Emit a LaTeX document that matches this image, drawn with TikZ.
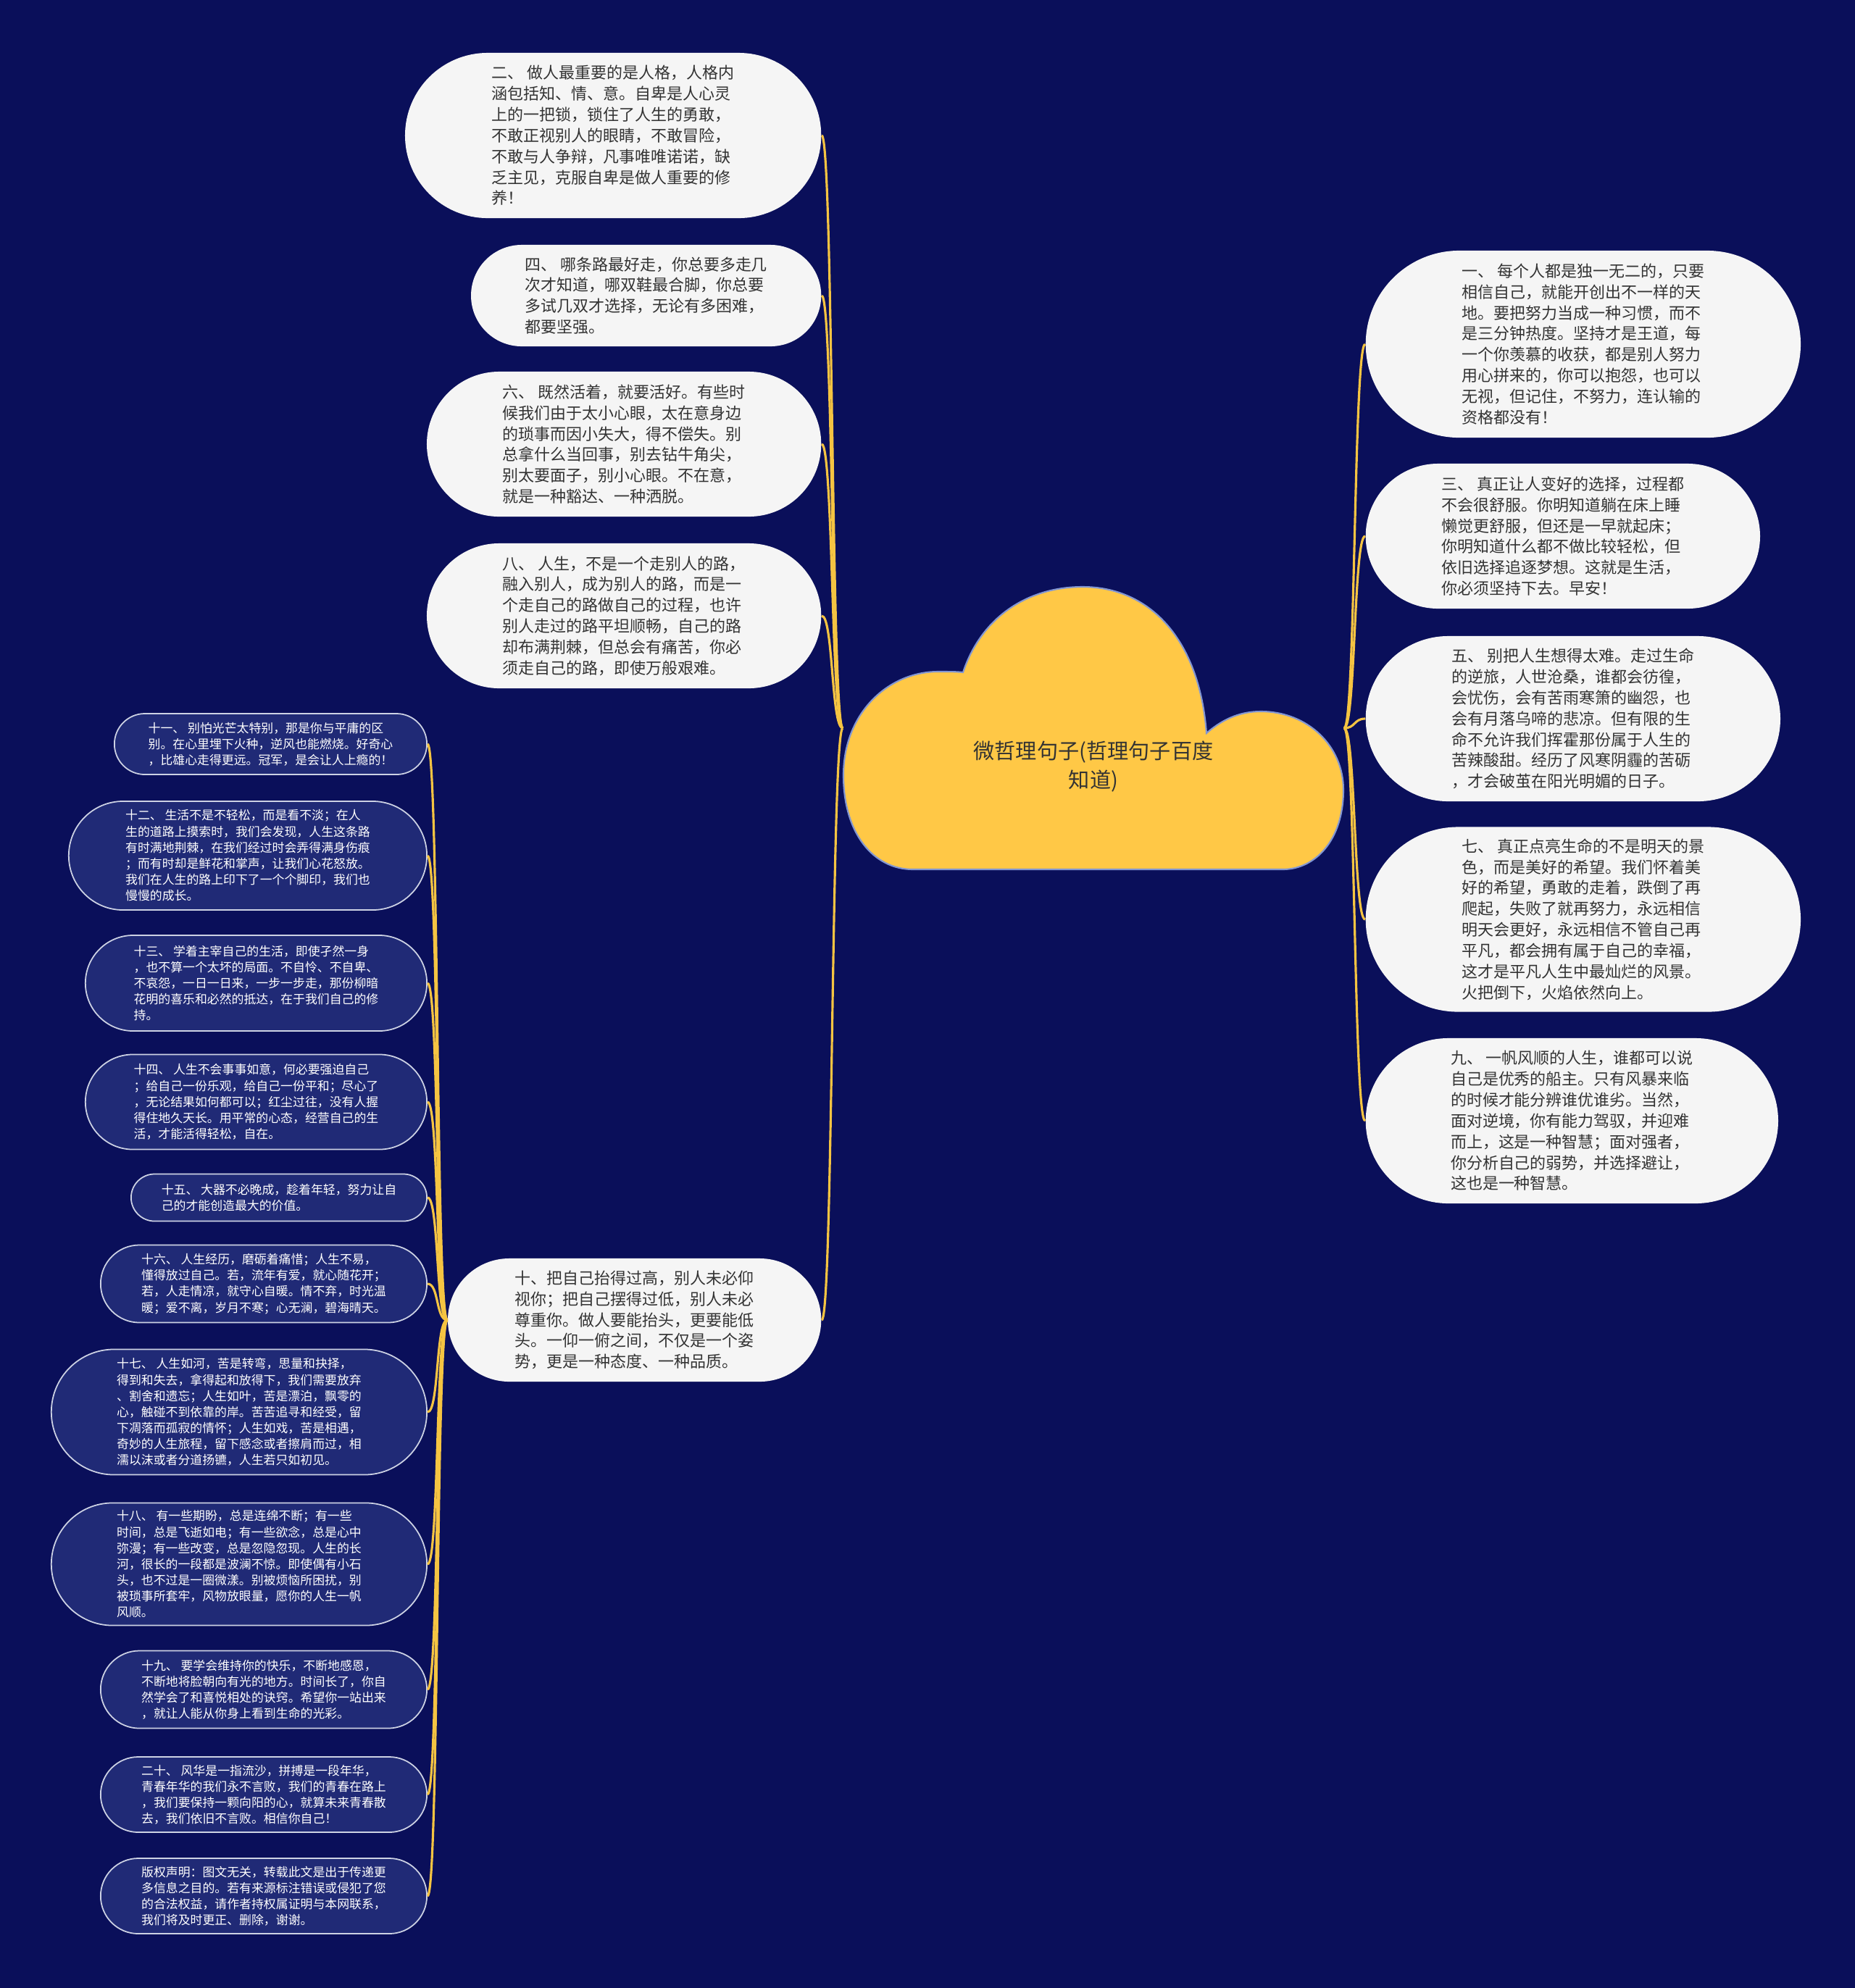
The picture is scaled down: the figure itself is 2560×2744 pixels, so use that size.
\documentclass[tikz,border=0pt]{standalone}
\usepackage{fontspec}
\setmainfont{Noto Sans CJK SC}
\usepackage{tikz}
\usetikzlibrary{shapes,arrows,positioning}

\definecolor{bgnavy}{RGB}{10,15,90}
\definecolor{boxwhite}{RGB}{245,245,245}
\definecolor{boxblue}{RGB}{32,42,118}
\definecolor{boxedge}{RGB}{205,210,228}
\definecolor{textgray}{RGB}{51,51,51}
\definecolor{linkyellow}{RGB}{245,196,66}
\definecolor{cloudyellow}{RGB}{255,200,70}
\definecolor{cloudedge}{RGB}{130,150,210}

\tikzset{
	whitebox/.style={rounded rectangle, fill=boxwhite, text=textgray, inner xsep=0pt, inner ysep=2pt, align=left, font=\fontsize{6.25pt}{8.2pt}\selectfont},
	bluebox/.style={rounded rectangle, fill=boxblue, draw=boxedge, line width=0.5pt, text=white, inner xsep=0pt, inner ysep=1pt, align=left, font=\fontsize{4.8pt}{6.3pt}\selectfont},
	rootbox/.style={rectangle, inner sep=0pt, minimum width=6.90cm, minimum height=3.90cm},
	roottext/.style={text=textgray, align=center, font=\fontsize{8.3pt}{11.3pt}\selectfont},
	link/.style={draw=linkyellow, line width=0.9pt},
}

\begin{document}
\begin{tikzpicture}[x=0.01cm, y=-0.01cm]
		\useasboundingbox[fill=bgnavy] (0,0) rectangle (2560,2744);

		\filldraw[fill=cloudyellow, draw=cloudedge, line width=0.6pt] (1329,928) .. controls (1355,850) and (1420,810) .. (1494,810) .. controls (1585,810) and (1655,880) .. (1665,1012) .. controls (1690,990) and (1715,982) .. (1740,982) .. controls (1805,982) and (1854,1030) .. (1854,1090) .. controls (1854,1160) and (1815,1200) .. (1770,1200) -- (1260,1200) .. controls (1205,1200) and (1164,1150) .. (1164,1070) .. controls (1164,985) and (1225,927) .. (1295,927) .. controls (1310,927) and (1320,927) .. (1329,928) -- cycle;
		\node[rootbox] (root) at (1509,1005) {};
		\node[roottext] (title) at (1509,1058) {微哲理句子(哲理句子百度\\知道)};

		\node[whitebox, anchor=east, minimum width=5.74cm, minimum height=2.28cm] (n2) at (1134,187) {二、 做人最重要的是人格，人格内\\涵包括知、情、意。自卑是人心灵\\上的一把锁，锁住了人生的勇敢，\\不敢正视别人的眼睛，不敢冒险，\\不敢与人争辩，凡事唯唯诺诺，缺\\乏主见，克服自卑是做人重要的修\\养！};
		\node[whitebox, anchor=east, minimum width=4.83cm, minimum height=1.40cm] (n4) at (1134,408) {四、 哪条路最好走，你总要多走几\\次才知道，哪双鞋最合脚，你总要\\多试几双才选择，无论有多困难，\\都要坚强。};
		\node[whitebox, anchor=east, minimum width=5.44cm, minimum height=2.00cm] (n6) at (1134,613) {六、 既然活着，就要活好。有些时\\候我们由于太小心眼，太在意身边\\的琐事而因小失大，得不偿失。别\\总拿什么当回事，别去钻牛角尖，\\别太要面子，别小心眼。不在意，\\就是一种豁达、一种洒脱。};
		\node[whitebox, anchor=east, minimum width=5.44cm, minimum height=2.00cm] (n8) at (1134,850) {八、 人生，不是一个走别人的路，\\融入别人，成为别人的路，而是一\\个走自己的路做自己的过程，也许\\别人走过的路平坦顺畅，自己的路\\却布满荆棘，但总会有痛苦，你必\\须走自己的路，即使万般艰难。};
		\node[whitebox, anchor=east, minimum width=5.15cm, minimum height=1.70cm] (n10) at (1134,1822) {十、把自己抬得过高，别人未必仰\\视你；把自己摆得过低，别人未必\\尊重你。做人要能抬头，更要能低\\头。一仰一俯之间，不仅是一个姿\\势，更是一种态度、一种品质。};

		\node[whitebox, anchor=west, minimum width=6.00cm, minimum height=2.58cm] (n1) at (1884,475) {一、 每个人都是独一无二的，只要\\相信自己，就能开创出不一样的天\\地。要把努力当成一种习惯，而不\\是三分钟热度。坚持才是王道，每\\一个你羡慕的收获，都是别人努力\\用心拼来的，你可以抱怨，也可以\\无视，但记住，不努力，连认输的\\资格都没有！};
		\node[whitebox, anchor=west, minimum width=5.44cm, minimum height=2.00cm] (n3) at (1884,740) {三、 真正让人变好的选择，过程都\\不会很舒服。你明知道躺在床上睡\\懒觉更舒服，但还是一早就起床；\\你明知道什么都不做比较轻松，但\\依旧选择追逐梦想。这就是生活，\\你必须坚持下去。早安！};
		\node[whitebox, anchor=west, minimum width=5.72cm, minimum height=2.28cm] (n5) at (1884,992) {五、 别把人生想得太难。走过生命\\的逆旅，人世沧桑，谁都会彷徨，\\会忧伤，会有苦雨寒箫的幽怨，也\\会有月落乌啼的悲凉。但有限的生\\命不允许我们挥霍那份属于人生的\\苦辣酸甜。经历了风寒阴霾的苦砺\\，才会破茧在阳光明媚的日子。};
		\node[whitebox, anchor=west, minimum width=6.00cm, minimum height=2.55cm] (n7) at (1884,1269) {七、 真正点亮生命的不是明天的景\\色，而是美好的希望。我们怀着美\\好的希望，勇敢的走着，跌倒了再\\爬起，失败了就再努力，永远相信\\明天会更好，永远相信不管自己再\\平凡，都会拥有属于自己的幸福，\\这才是平凡人生中最灿烂的风景。\\火把倒下，火焰依然向上。};
		\node[whitebox, anchor=west, minimum width=5.69cm, minimum height=2.28cm] (n9) at (1884,1547) {九、 一帆风顺的人生，谁都可以说\\自己是优秀的船主。只有风暴来临\\的时候才能分辨谁优谁劣。当然，\\面对逆境，你有能力驾驭，并迎难\\而上，这是一种智慧；面对强者，\\你分析自己的弱势，并选择避让，\\这也是一种智慧。};

		\node[bluebox, anchor=east, minimum width=4.31cm, minimum height=0.84cm] (n11) at (590,1027) {十一、 别怕光芒太特别，那是你与平庸的区\\别。在心里埋下火种，逆风也能燃烧。好奇心\\，比雄心走得更远。冠军，是会让人上瘾的！};
		\node[bluebox, anchor=east, minimum width=4.94cm, minimum height=1.50cm] (n12) at (590,1181) {十二、 生活不是不轻松，而是看不淡；在人\\生的道路上摸索时，我们会发现，人生这条路\\有时满地荆棘，在我们经过时会弄得满身伤痕\\；而有时却是鲜花和掌声，让我们心花怒放。\\我们在人生的路上印下了一个个脚印，我们也\\慢慢的成长。};
		\node[bluebox, anchor=east, minimum width=4.71cm, minimum height=1.32cm] (n13) at (590,1357) {十三、 学着主宰自己的生活，即使孑然一身\\，也不算一个太坏的局面。不自怜、不自卑、\\不哀怨，一日一日来，一步一步走，那份柳暗\\花明的喜乐和必然的抵达，在于我们自己的修\\持。};
		\node[bluebox, anchor=east, minimum width=4.71cm, minimum height=1.31cm] (n14) at (590,1521) {十四、 人生不会事事如意，何必要强迫自己\\；给自己一份乐观，给自己一份平和；尽心了\\，无论结果如何都可以；红尘过往，没有人握\\得住地久天长。用平常的心态，经营自己的生\\活，才能活得轻松，自在。};
		\node[bluebox, anchor=east, minimum width=4.08cm, minimum height=0.65cm] (n15) at (590,1653) {十五、 大器不必晚成，趁着年轻，努力让自\\己的才能创造最大的价值。};
		\node[bluebox, anchor=east, minimum width=4.50cm, minimum height=1.07cm] (n16) at (590,1772) {十六、 人生经历，磨砺着痛惜；人生不易，\\懂得放过自己。若，流年有爱，就心随花开；\\若，人走情凉，就守心自暖。情不弃，时光温\\暖；爱不离，岁月不寒；心无澜，碧海晴天。};
		\node[bluebox, anchor=east, minimum width=5.18cm, minimum height=1.73cm] (n17) at (590,1949) {十七、 人生如河，苦是转弯，思量和抉择，\\得到和失去，拿得起和放得下，我们需要放弃\\、割舍和遗忘；人生如叶，苦是漂泊，飘零的\\心，触碰不到依靠的岸。苦苦追寻和经受，留\\下凋落而孤寂的情怀；人生如戏，苦是相遇，\\奇妙的人生旅程，留下感念或者擦肩而过，相\\濡以沫或者分道扬镳，人生若只如初见。};
		\node[bluebox, anchor=east, minimum width=5.18cm, minimum height=1.69cm] (n18) at (590,2159) {十八、 有一些期盼，总是连绵不断；有一些\\时间，总是飞逝如电；有一些欲念，总是心中\\弥漫；有一些改变，总是忽隐忽现。人生的长\\河，很长的一段都是波澜不惊。即使偶有小石\\头，也不过是一圈微漾。别被烦恼所困扰，别\\被琐事所套牢，风物放眼量，愿你的人生一帆\\风顺。};
		\node[bluebox, anchor=east, minimum width=4.50cm, minimum height=1.07cm] (n19) at (590,2332) {十九、 要学会维持你的快乐，不断地感恩，\\不断地将脸朝向有光的地方。时间长了，你自\\然学会了和喜悦相处的诀窍。希望你一站出来\\，就让人能从你身上看到生命的光彩。};
		\node[bluebox, anchor=east, minimum width=4.50cm, minimum height=1.04cm] (n20) at (590,2477) {二十、 风华是一指流沙，拼搏是一段年华，\\青春年华的我们永不言败，我们的青春在路上\\，我们要保持一颗向阳的心，就算未来青春散\\去，我们依旧不言败。相信你自己！};
		\node[bluebox, anchor=east, minimum width=4.50cm, minimum height=1.04cm] (n21) at (590,2617) {版权声明：图文无关，转载此文是出于传递更\\多信息之目的。若有来源标注错误或侵犯了您\\的合法权益，请作者持权属证明与本网联系，\\我们将及时更正、删除，谢谢。};

		\draw[link] (root.west) .. controls +(-16,0) and +(16,0) .. (n2.east);
		\draw[link] (root.west) .. controls +(-16,0) and +(16,0) .. (n4.east);
		\draw[link] (root.west) .. controls +(-16,0) and +(16,0) .. (n6.east);
		\draw[link] (root.west) .. controls +(-16,0) and +(16,0) .. (n8.east);
		\draw[link] (root.west) .. controls +(-16,0) and +(16,0) .. (n10.east);
		\draw[link] (root.east) .. controls +(16,0) and +(-16,0) .. (n1.west);
		\draw[link] (root.east) .. controls +(16,0) and +(-16,0) .. (n3.west);
		\draw[link] (root.east) .. controls +(16,0) and +(-16,0) .. (n5.west);
		\draw[link] (root.east) .. controls +(16,0) and +(-16,0) .. (n7.west);
		\draw[link] (root.east) .. controls +(16,0) and +(-16,0) .. (n9.west);
		\draw[link] (n10.west) .. controls +(-16,0) and +(16,0) .. (n11.east);
		\draw[link] (n10.west) .. controls +(-16,0) and +(16,0) .. (n12.east);
		\draw[link] (n10.west) .. controls +(-16,0) and +(16,0) .. (n13.east);
		\draw[link] (n10.west) .. controls +(-16,0) and +(16,0) .. (n14.east);
		\draw[link] (n10.west) .. controls +(-16,0) and +(16,0) .. (n15.east);
		\draw[link] (n10.west) .. controls +(-16,0) and +(16,0) .. (n16.east);
		\draw[link] (n10.west) .. controls +(-16,0) and +(16,0) .. (n17.east);
		\draw[link] (n10.west) .. controls +(-16,0) and +(16,0) .. (n18.east);
		\draw[link] (n10.west) .. controls +(-16,0) and +(16,0) .. (n19.east);
		\draw[link] (n10.west) .. controls +(-16,0) and +(16,0) .. (n20.east);
		\draw[link] (n10.west) .. controls +(-16,0) and +(16,0) .. (n21.east);
\end{tikzpicture}
\end{document}
